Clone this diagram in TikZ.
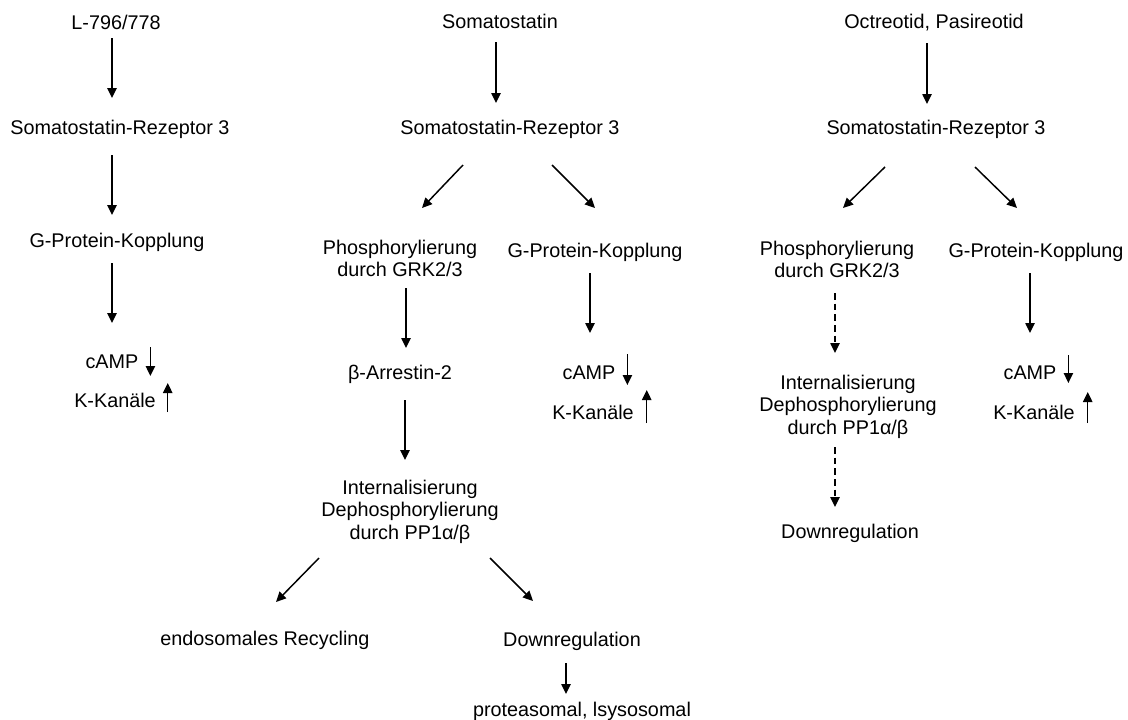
\documentclass[tikz,border=0pt]{standalone}
\usepackage{fontspec}
\setmainfont{Liberation Sans}
\usetikzlibrary{arrows.meta,calc}
\begin{document}
\begin{tikzpicture}[x=0.75pt,y=-0.75pt,
  lbl/.style={anchor=north,inner sep=0pt,outer sep=0pt,align=center,
    font=\fontsize{14.85pt}{16.9pt}\selectfont},
  arr/.style={line width=1.1pt,-{Triangle[length=7.5pt,width=7pt]}},
  darr/.style={arr,dash pattern=on 5pt off 3pt}]
\useasboundingbox (0,0) rectangle (1128,719);
% column 1
\node[lbl] (L) at (116,15) {L-796/778};
\node[lbl] (SRa) at (120,120) {Somatostatin-Rezeptor 3};
\node[lbl] (Ga) at (117,233) {G-Protein-Kopplung};
\node[lbl] (cAa) at (112,355) {cAMP};
\node[lbl] (Ka) at (115,393) {K-Kanäle};
\draw[arr] ($(L.north)+(-4,23)$) -- ($(SRa.north)+(-8,-22)$);
\draw[arr] ($(SRa.north)+(-8,35)$) -- ($(Ga.north)+(-5,-18)$);
\draw[arr] ($(Ga.north)+(-5,30)$) -- ($(cAa.north)+(0,-32)$);
\draw[arr] ($(cAa.north east)+(12,-8)$) -- ($(cAa.north east)+(12,21)$);
\draw[arr] ($(Ka.north east)+(12,19)$) -- ($(Ka.north east)+(12,-10)$);
% column 2
\node[lbl] (S) at (500,14) {Somatostatin};
\node[lbl] (SRb) at (510,120) {Somatostatin-Rezeptor 3};
\node[lbl] (Phb) at (400,240) {Phosphorylierung\\durch GRK2/3};
\node[lbl] (Gb) at (595,243) {G-Protein-Kopplung};
\node[lbl] (B) at (400,365) {β-Arrestin-2};
\node[lbl] (cAb) at (589,366) {cAMP};
\node[lbl] (Kb) at (593,405) {K-Kanäle};
\node[lbl] (Ib) at (410,480) {Internalisierung\\Dephosphorylierung\\durch PP1α/β};
\node[lbl] (R) at (265,631) {endosomales Recycling};
\node[lbl] (Db) at (572,632) {Downregulation};
\node[lbl] (P) at (582,702) {proteasomal, lsysosomal};
\draw[arr] ($(S.north)+(-4,28)$) -- ($(SRb.north)+(-14,-17)$);
\draw[arr] ($(SRb.north)+(-47,45)$) -- ($(Phb.north)+(22,-32)$);
\draw[arr] ($(SRb.north)+(42,45)$) -- ($(Gb.north)+(0,-35)$);
\draw[arr] ($(Phb.north)+(6,48)$) -- ($(B.north)+(6,-17)$);
\draw[arr] ($(Gb.north)+(-5,30)$) -- ($(cAb.north)+(1,-33)$);
\draw[arr] ($(cAb.north east)+(12,-12)$) -- ($(cAb.north east)+(12,19)$);
\draw[arr] ($(Kb.north east)+(13,18)$) -- ($(Kb.north east)+(13,-15)$);
\draw[arr] ($(B.north)+(5,35)$) -- ($(Ib.north)+(-5,-20)$);
\draw[arr] ($(Ib.north)+(-91,78)$) -- ($(R.north)+(11,-29)$);
\draw[arr] ($(Ib.north)+(80,78)$) -- ($(Db.north)+(-39,-31)$);
\draw[arr] ($(Db.north)+(-6,31)$) -- ($(P.north)+(-16,-8)$);
% column 3
\node[lbl] (O) at (934,14) {Octreotid, Pasireotid};
\node[lbl] (SRc) at (936,120) {Somatostatin-Rezeptor 3};
\node[lbl] (Phc) at (837,241) {Phosphorylierung\\durch GRK2/3};
\node[lbl] (Gc) at (1036,243) {G-Protein-Kopplung};
\node[lbl] (Ic) at (848,375) {Internalisierung\\Dephosphorylierung\\durch PP1α/β};
\node[lbl] (Dc) at (850,524) {Downregulation};
\node[lbl] (cAc) at (1030,366) {cAMP};
\node[lbl] (Kc) at (1034,405) {K-Kanäle};
\draw[arr] ($(O.north)+(-7,29)$) -- ($(SRc.north)+(-9,-16)$);
\draw[arr] ($(SRc.north)+(-51,47)$) -- ($(Phc.north)+(6,-33)$);
\draw[arr] ($(SRc.north)+(39,47)$) -- ($(Gc.north)+(-19,-35)$);
\draw[darr] ($(Phc.north)+(-2,52)$) -- ($(Ic.north)+(-13,-22)$);
\draw[darr] ($(Ic.north)+(-13,72)$) -- ($(Dc.north)+(-15,-17)$);
\draw[arr] ($(Gc.north)+(-6,30)$) -- ($(cAc.north)+(0,-33)$);
\draw[arr] ($(cAc.north east)+(12,-11)$) -- ($(cAc.north east)+(12,17)$);
\draw[arr] ($(Kc.north east)+(13,18)$) -- ($(Kc.north east)+(13,-13)$);
\end{tikzpicture}
\end{document}
